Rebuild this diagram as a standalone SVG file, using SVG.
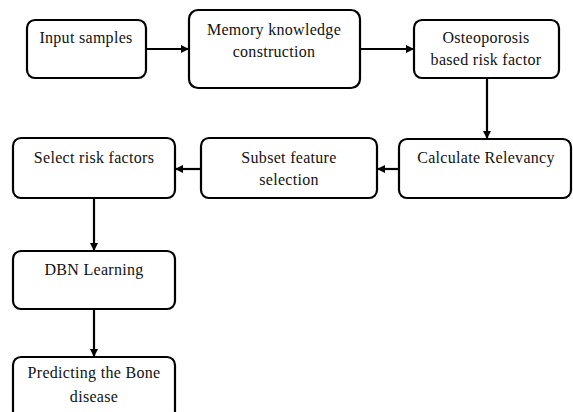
<svg xmlns="http://www.w3.org/2000/svg" width="573" height="412" viewBox="0 0 573 412">
<defs>
<style>
.box{fill:#fff;stroke:#000;stroke-width:2.2}
.t{font-family:"Liberation Serif","Times New Roman",serif;font-size:16px;letter-spacing:0.3px;fill:#111;text-anchor:middle}
.c{stroke:#000;stroke-width:2.2;fill:none;marker-end:url(#ah)}
</style>
<marker id="ah" viewBox="0 0 10 10" refX="10" refY="5" markerWidth="10" markerHeight="8" markerUnits="userSpaceOnUse" orient="auto">
<path d="M0,0 L10,5 L0,10 z" fill="#000"/>
</marker>
</defs>
<rect width="573" height="412" fill="#fff"/>
<g id="connectors">
<line class="c" x1="146" y1="49" x2="189" y2="49"/>
<line class="c" x1="360" y1="49" x2="414" y2="49"/>
<line class="c" x1="487" y1="78" x2="487" y2="139"/>
<line class="c" x1="399" y1="169" x2="377" y2="169"/>
<line class="c" x1="201" y1="169" x2="175" y2="169"/>
<line class="c" x1="94" y1="198" x2="94" y2="251"/>
<line class="c" x1="94" y1="309" x2="94" y2="357"/>
</g>
<g id="n1"><rect class="box" x="27" y="20" width="119" height="58" rx="8"/><text class="t" x="86" y="43">Input samples</text></g>
<g id="n2"><rect class="box" x="189" y="10" width="171" height="78" rx="9"/><text class="t" x="274" y="35">Memory knowledge</text><text class="t" x="274" y="57">construction</text></g>
<g id="n3"><rect class="box" x="414" y="20" width="145" height="58" rx="8"/><text class="t" x="486" y="43">Osteoporosis</text><text class="t" x="486" y="65">based risk factor</text></g>
<g id="n4"><rect class="box" x="399" y="139" width="172" height="59" rx="8"/><text class="t" x="486" y="163">Calculate Relevancy</text></g>
<g id="n5"><rect class="box" x="201" y="138" width="176" height="60" rx="8"/><text class="t" x="289" y="163">Subset feature</text><text class="t" x="289" y="185">selection</text></g>
<g id="n6"><rect class="box" x="13" y="138" width="162" height="60" rx="8"/><text class="t" x="94" y="163">Select risk factors</text></g>
<g id="n7"><rect class="box" x="13" y="251" width="162" height="58" rx="8"/><text class="t" x="94" y="275">DBN Learning</text></g>
<g id="n8"><rect class="box" x="13" y="357" width="162" height="62" rx="8"/><text class="t" x="94" y="378">Predicting the Bone</text><text class="t" x="94" y="402">disease</text></g>
</svg>
